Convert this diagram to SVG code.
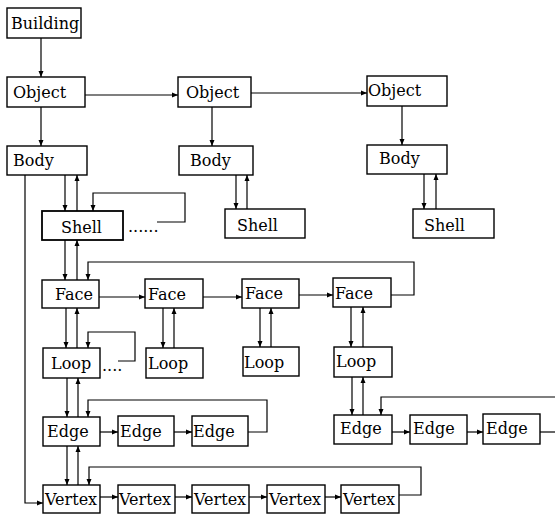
<svg xmlns="http://www.w3.org/2000/svg" width="555" height="514" viewBox="0 0 555 514">
<style>
.b{fill:#fff;stroke:#000;stroke-width:1.4}
.t{font-family:"DejaVu Serif","Liberation Serif",serif;font-size:16px;fill:#000}
.c{fill:none;stroke:#000;stroke-width:1.2}
.a{marker-end:url(#ah)}
</style>
<defs>
<marker id="ah" markerUnits="userSpaceOnUse" markerWidth="7" markerHeight="6" refX="6" refY="3" orient="auto">
<path d="M0,0.5 L6,3 L0,5.5 z" fill="#000"/>
</marker>
</defs>
<rect width="555" height="514" fill="#fff"/>
<g id="connectors">
<path class="c a" d="M41,38 V77"/>
<path class="c a" d="M41,107 V146"/>
<path class="c a" d="M85,95 H178"/>
<path class="c a" d="M251,93 H367"/>
<path class="c a" d="M212,107 V146"/>
<path class="c a" d="M402,106 V145"/>
<path class="c a" d="M236,175 V209"/>
<path class="c a" d="M247,209 V175"/>
<path class="c a" d="M424,174 V209"/>
<path class="c a" d="M436,209 V174"/>
<path class="c a" d="M25,175 V503 H43"/>
<path class="c a" d="M65,175 V211"/>
<path class="c a" d="M77,211 V175"/>
<path class="c a" d="M157,222 H185 V193 H93 V211"/>
<path class="c a" d="M65,240 V280"/>
<path class="c a" d="M77,280 V240"/>
<path class="c a" d="M391,295 H414 V262 H88 V280"/>
<path class="c a" d="M99,297 H145"/>
<path class="c a" d="M203,297 H242"/>
<path class="c a" d="M299,295 H333"/>
<path class="c a" d="M66,308 V348"/>
<path class="c a" d="M77,348 V308"/>
<path class="c a" d="M163,308 V348"/>
<path class="c a" d="M174,348 V308"/>
<path class="c a" d="M260,308 V347"/>
<path class="c a" d="M271,347 V308"/>
<path class="c a" d="M351,307 V347"/>
<path class="c a" d="M363,347 V307"/>
<path class="c a" d="M118,361 H135 V332 H88 V348"/>
<path class="c a" d="M67,378 V417"/>
<path class="c a" d="M78,417 V378"/>
<path class="c a" d="M352,377 V415"/>
<path class="c a" d="M363,415 V377"/>
<path class="c a" d="M248,432 H267 V400 H88 V417"/>
<path class="c a" d="M100,432 H118"/>
<path class="c a" d="M174,432 H192"/>
<path class="c a" d="M555,397 H381 V415"/>
<path class="c a" d="M392,432 H410"/>
<path class="c a" d="M467,432 H483"/>
<path class="c" d="M540,432 H555"/>
<path class="c a" d="M67,446 V485"/>
<path class="c a" d="M78,485 V446"/>
<path class="c a" d="M399,495 H421 V467 H89 V485"/>
<path class="c a" d="M100,497 H118"/>
<path class="c a" d="M175,497 H192"/>
<path class="c a" d="M249,497 H267"/>
<path class="c a" d="M325,497 H341"/>
<text class="t" x="128" y="232">......</text>
<text class="t" x="102" y="371">....</text>
</g>
<g id="building"><rect class="b" x="7" y="8" width="74" height="30"/><text class="t" x="11" y="29">Building</text></g>
<g id="object1"><rect class="b" x="7" y="77" width="78" height="30"/><text class="t" x="13" y="98">Object</text></g>
<g id="object2"><rect class="b" x="178" y="77" width="73" height="30"/><text class="t" x="186" y="98">Object</text></g>
<g id="object3"><rect class="b" x="367" y="76" width="80" height="30"/><text class="t" x="368" y="96">Object</text></g>
<g id="body1"><rect class="b" x="7" y="146" width="80" height="29"/><text class="t" x="13" y="166">Body</text></g>
<g id="body2"><rect class="b" x="179" y="146" width="74" height="29"/><text class="t" x="190" y="166">Body</text></g>
<g id="body3"><rect class="b" x="367" y="145" width="80" height="29"/><text class="t" x="379" y="164">Body</text></g>
<g id="shell1"><rect class="b" x="42" y="211" width="81" height="29" style="stroke-width:1.8"/><text class="t" x="61" y="233">Shell</text></g>
<g id="shell2"><rect class="b" x="225" y="209" width="80" height="29"/><text class="t" x="237" y="231">Shell</text></g>
<g id="shell3"><rect class="b" x="413" y="209" width="81" height="29"/><text class="t" x="424" y="231">Shell</text></g>
<g id="face1"><rect class="b" x="42" y="280" width="57" height="28"/><text class="t" x="55" y="300">Face</text></g>
<g id="face2"><rect class="b" x="145" y="279" width="58" height="29"/><text class="t" x="148" y="300">Face</text></g>
<g id="face3"><rect class="b" x="242" y="279" width="57" height="29"/><text class="t" x="245" y="299">Face</text></g>
<g id="face4"><rect class="b" x="333" y="278" width="58" height="29"/><text class="t" x="335" y="299">Face</text></g>
<g id="loop1"><rect class="b" x="43" y="348" width="57" height="30"/><text class="t" x="51" y="369">Loop</text></g>
<g id="loop2"><rect class="b" x="146" y="348" width="57" height="30"/><text class="t" x="148" y="369">Loop</text></g>
<g id="loop3"><rect class="b" x="243" y="347" width="56" height="29"/><text class="t" x="244" y="368">Loop</text></g>
<g id="loop4"><rect class="b" x="334" y="347" width="58" height="30"/><text class="t" x="336" y="367">Loop</text></g>
<g id="edge1"><rect class="b" x="43" y="417" width="57" height="29"/><text class="t" x="47" y="437">Edge</text></g>
<g id="edge2"><rect class="b" x="118" y="416" width="56" height="30"/><text class="t" x="120" y="437">Edge</text></g>
<g id="edge3"><rect class="b" x="192" y="416" width="56" height="30"/><text class="t" x="193" y="437">Edge</text></g>
<g id="edge4"><rect class="b" x="334" y="415" width="58" height="29"/><text class="t" x="340" y="434">Edge</text></g>
<g id="edge5"><rect class="b" x="410" y="415" width="57" height="29"/><text class="t" x="413" y="434">Edge</text></g>
<g id="edge6"><rect class="b" x="483" y="414" width="57" height="30"/><text class="t" x="486" y="434">Edge</text></g>
<g id="vertex1"><rect class="b" x="43" y="485" width="57" height="28"/><text class="t" x="45" y="505">Vertex</text></g>
<g id="vertex2"><rect class="b" x="118" y="485" width="57" height="28"/><text class="t" x="119" y="505">Vertex</text></g>
<g id="vertex3"><rect class="b" x="192" y="485" width="57" height="28"/><text class="t" x="194" y="505">Vertex</text></g>
<g id="vertex4"><rect class="b" x="267" y="485" width="58" height="28"/><text class="t" x="269" y="505">Vertex</text></g>
<g id="vertex5"><rect class="b" x="341" y="485" width="58" height="28"/><text class="t" x="343" y="505">Vertex</text></g>
</svg>
